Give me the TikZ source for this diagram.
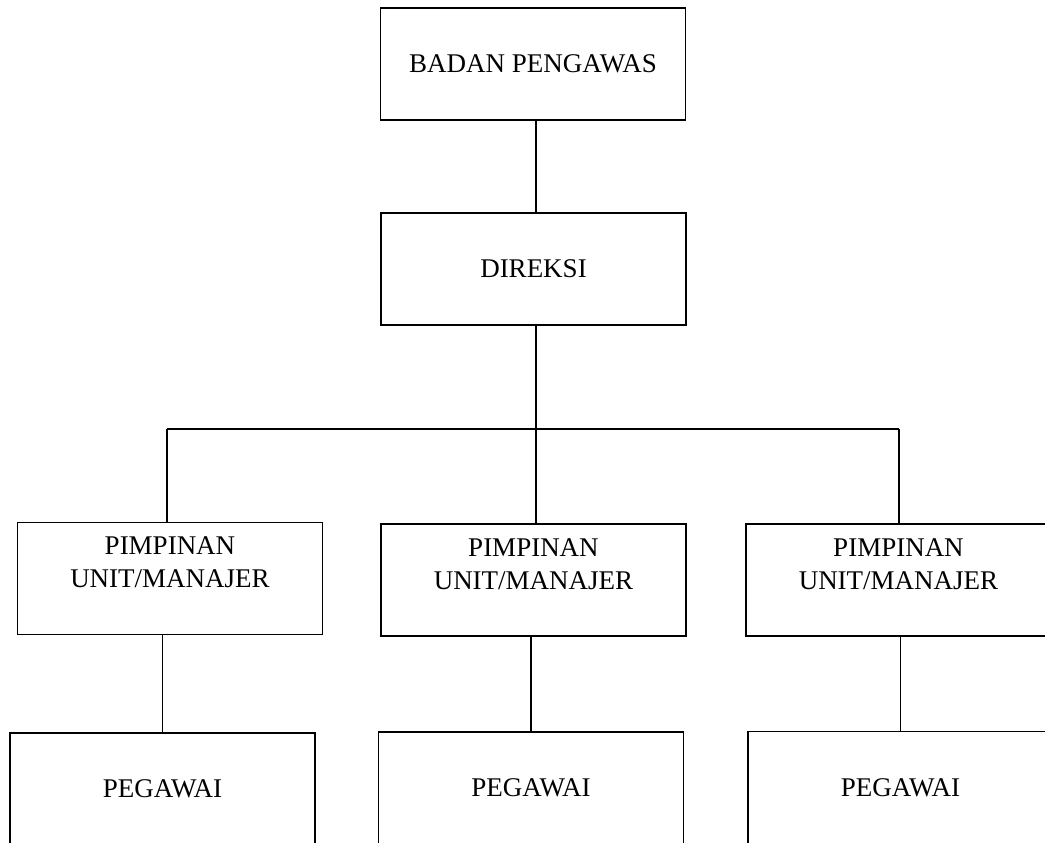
\documentclass[tikz,border=0pt]{standalone}
\usepackage{fontspec}
\setmainfont{Liberation Serif}
\usetikzlibrary{positioning, calc}

\begin{document}
\begin{tikzpicture}[x=0.5pt, y=-0.5pt,
    orgbox/.style={draw, line width=0.9pt, minimum width=152.5pt, minimum height=56pt,
        inner sep=0pt, font=\fontsize{13.5}{16.5}\selectfont},
    boxtext/.style={align=center, inner sep=0pt, font=\fontsize{13.5}{16.5}\selectfont},
    link/.style={line width=0.7pt}]
    % Page frame (pixels of the chart, y grows downwards)
    \useasboundingbox (0,0) rectangle (1045,842);
    \clip (0,0) rectangle (1045,842);

    % Top of the chart
    \node[orgbox] (pengawas) at (533,64) {BADAN PENGAWAS};
    \node[orgbox] (direksi) at (533.5,269) {DIREKSI};

    % Bus level
    \def\busy{429}

    % Units and their staff
    \foreach \name/\ux/\uy/\drop/\px/\py in {A/170/578.5/167/162.5/789,
                                             B/533.5/580/536/531/788,
                                             C/898.5/580/899/900.5/787.5} {
        \coordinate (drop\name) at (\drop,\busy);
        \node[orgbox] (unit\name) at (\ux,\uy) {};
        \node[boxtext, below=7.5pt of unit\name.north] (unit\name txt) {PIMPINAN\\UNIT/MANAJER};
        \node[orgbox] (peg\name) at (\px,\py) {PEGAWAI};

        \draw[link] (drop\name) -- (drop\name |- unit\name.north);
        \draw[link] (peg\name.north) -- (peg\name.north |- unit\name.south);
    }

    % Connectors
    \draw[link] (pengawas.south -| dropB) -- (direksi.north -| dropB);
    \draw[link] (direksi.south -| dropB) -- (dropB);
    \draw[link] (dropA) -- (dropC);
\end{tikzpicture}
\end{document}
